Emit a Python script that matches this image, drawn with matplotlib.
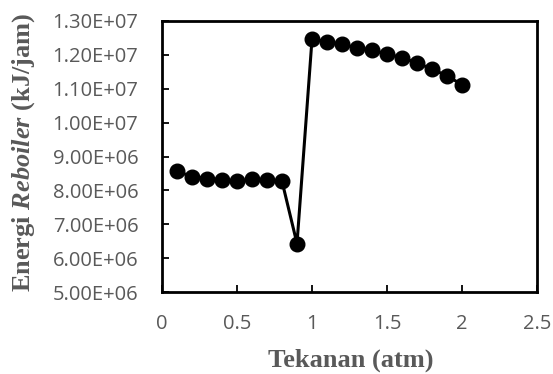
import matplotlib.pyplot as plt
from matplotlib.ticker import FuncFormatter

plt.rcParams['mathtext.fontset'] = 'custom'
plt.rcParams['mathtext.rm'] = 'Liberation Serif:bold'
plt.rcParams['mathtext.bfit'] = 'Liberation Serif:italic:bold'

# tekanan (atm) vs energi reboiler (kJ/jam)
tekanan = [0.1, 0.2, 0.3, 0.4, 0.5, 0.6, 0.7, 0.8, 0.9, 1.0,
           1.1, 1.2, 1.3, 1.4, 1.5, 1.6, 1.7, 1.8, 1.9, 2.0]
energi = [8.56e6, 8.41e6, 8.35e6, 8.32e6, 8.27e6, 8.33e6, 8.32e6, 8.27e6, 6.43e6, 1.246e7,
          1.239e7, 1.231e7, 1.221e7, 1.214e7, 1.202e7, 1.192e7, 1.176e7, 1.158e7, 1.138e7, 1.112e7]

xticks = [0, 0.5, 1, 1.5, 2, 2.5]
yticks = [5e6, 6e6, 7e6, 8e6, 9e6, 1e7, 1.1e7, 1.2e7, 1.3e7]

fig = plt.figure(figsize=(5.53, 3.74), dpi=100)
ax = fig.add_axes([0.293, 0.219, 0.678, 0.725])

ax.plot(tekanan, energi, '-o', color='black', lw=2.2, ms=10.5)

ax.set_xlim(0, 2.5)
ax.set_ylim(5e6, 1.3e7)
ax.set_xticks(xticks)
ax.set_yticks(yticks)
ax.xaxis.set_major_formatter(FuncFormatter(lambda v, p: '%g' % v))
ax.yaxis.set_major_formatter(FuncFormatter(lambda v, p: ('%.2E' % v)))

for s in ax.spines.values():
    s.set_linewidth(2)
ax.tick_params(direction='in', length=5, width=1.3, colors='black',
               labelcolor='#595959', labelsize=14.5)
for lab in ax.get_xticklabels() + ax.get_yticklabels():
    lab.set_fontfamily('Open Sans')
ax.tick_params(axis='x', pad=16)
ax.tick_params(axis='y', pad=17)

fig.text(0.635, 0.037, 'Tekanan (atm)', fontfamily='Liberation Serif', fontweight='bold',
         fontsize=19, color='#595959', ha='center', va='center')
fig.text(0.042, 0.593, r'Energi $\mathbfit{Reboiler}$ (kJ/jam)', fontfamily='Liberation Serif',
         fontweight='bold', fontsize=19, color='#595959', rotation=90,
         ha='center', va='center')

fig.savefig('out.png', dpi=100)
